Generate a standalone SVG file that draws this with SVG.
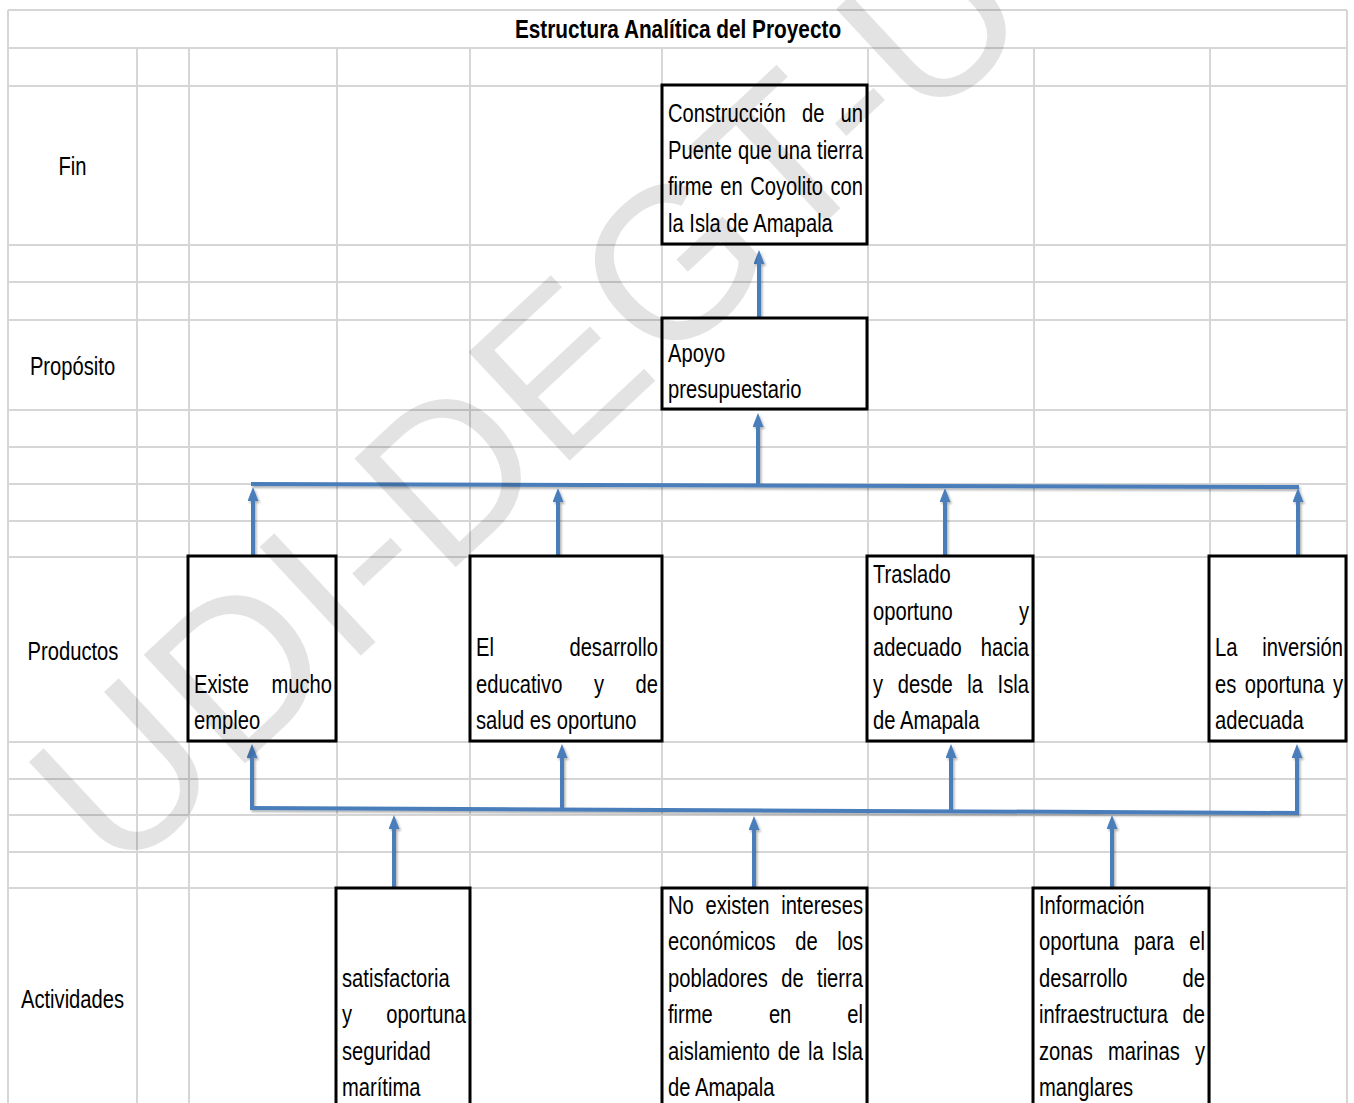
<svg xmlns="http://www.w3.org/2000/svg" width="1354" height="1103" viewBox="0 0 1354 1103">
  <style>
    .grid line { stroke: #d6d6d6; stroke-width: 2; }
    .box { fill: #ffffff; stroke: #000000; stroke-width: 3; }
    .t { font-family: "Liberation Sans", Arial, sans-serif; font-size: 26px; fill: #000000; }
    .title { font-family: "Liberation Sans", Arial, sans-serif; font-size: 26px; font-weight: bold; fill: #000000; text-anchor: middle; }
    .e { text-anchor: end; }
    .m { text-anchor: middle; }
    .conn path { fill: none; stroke: #4a7ebb; stroke-width: 4; }
    .conn path.arr { marker-end: url(#ah); }
    .wm { font-family: "Liberation Sans", Arial, sans-serif; font-size: 216px; fill: #000000; fill-opacity: 0.11; }
  </style>
  <defs>
    <!-- arrowhead: tip sits 8px beyond the end of the line -->
    <marker id="ah" markerUnits="userSpaceOnUse" markerWidth="14" markerHeight="11" refX="6" refY="5.5" orient="auto">
      <path d="M0,0 L14,5.5 L0,11 Z" fill="#4a7ebb"/>
    </marker>
    <filter id="sh" x="-5%" y="-20%" width="110%" height="140%">
      <feDropShadow dx="1.5" dy="2" stdDeviation="1.2" flood-color="#000000" flood-opacity="0.3"/>
    </filter>
  </defs>

  <rect width="1354" height="1103" fill="#ffffff"/>

  <!-- spreadsheet grid -->
  <g id="grid" class="grid">
    <line x1="8" y1="10" x2="1347" y2="10"/>
    <line x1="8" y1="48" x2="1347" y2="48"/>
    <line x1="8" y1="86" x2="1347" y2="86"/>
    <line x1="8" y1="245" x2="1347" y2="245"/>
    <line x1="8" y1="282" x2="1347" y2="282"/>
    <line x1="8" y1="320" x2="1347" y2="320"/>
    <line x1="8" y1="410" x2="1347" y2="410"/>
    <line x1="8" y1="447" x2="1347" y2="447"/>
    <line x1="8" y1="484" x2="1347" y2="484"/>
    <line x1="8" y1="521" x2="1347" y2="521"/>
    <line x1="8" y1="557" x2="1347" y2="557"/>
    <line x1="8" y1="742" x2="1347" y2="742"/>
    <line x1="8" y1="779" x2="1347" y2="779"/>
    <line x1="8" y1="815" x2="1347" y2="815"/>
    <line x1="8" y1="852" x2="1347" y2="852"/>
    <line x1="8" y1="888" x2="1347" y2="888"/>
    <line x1="8" y1="10" x2="8" y2="1103"/>
    <line x1="1347" y1="10" x2="1347" y2="1103"/>
    <line x1="137" y1="48" x2="137" y2="1103"/>
    <line x1="189" y1="48" x2="189" y2="1103"/>
    <line x1="337" y1="48" x2="337" y2="1103"/>
    <line x1="470" y1="48" x2="470" y2="1103"/>
    <line x1="662" y1="48" x2="662" y2="1103"/>
    <line x1="868" y1="48" x2="868" y2="1103"/>
    <line x1="1034" y1="48" x2="1034" y2="1103"/>
    <line x1="1210" y1="48" x2="1210" y2="1103"/>
  </g>

  <text class="title" transform="translate(678 38) scale(.8 1)">Estructura Analítica del Proyecto</text>

  <!-- row labels -->
  <g id="row-labels">
    <text class="t m" transform="translate(72.5 175) scale(.776 1)">Fin</text>
    <text class="t m" transform="translate(72.5 375) scale(.776 1)">Propósito</text>
    <text class="t m" transform="translate(73 660) scale(.776 1)">Productos</text>
    <text class="t m" transform="translate(72.5 1008) scale(.776 1)">Actividades</text>
  </g>

  <!-- connectors -->
  <g id="connectors" class="conn" filter="url(#sh)">
    <path class="arr" d="M759 318 V258"/>
    <path d="M251 484 L1299 487"/>
    <path class="arr" d="M758 486 V421"/>
    <path class="arr" d="M253 556 V495"/>
    <path class="arr" d="M558 556 V496"/>
    <path class="arr" d="M945 556 V496"/>
    <path class="arr" d="M1298 556 V496"/>
    <path d="M250 808 L1299 813"/>
    <path class="arr" d="M252 810 V752"/>
    <path class="arr" d="M562 809 V752"/>
    <path class="arr" d="M951 811 V752"/>
    <path class="arr" d="M1297 813 V752"/>
    <path class="arr" d="M394 888 V823"/>
    <path class="arr" d="M754 888 V824"/>
    <path class="arr" d="M1112 888 V823"/>
  </g>

  <g id="fin">
    <rect class="box" x="662" y="85" width="205" height="159"/>
    <text class="t" transform="translate(668 122) scale(.776 1)">Construcción</text>
    <text class="t" transform="translate(802 122) scale(.776 1)">de</text>
    <text class="t e" transform="translate(863 122) scale(.776 1)">un</text>
    <text class="t" transform="translate(668 159) scale(.776 1)">Puente</text>
    <text class="t" transform="translate(738 159) scale(.776 1)">que</text>
    <text class="t" transform="translate(777.5 159) scale(.776 1)">una</text>
    <text class="t e" transform="translate(863 159) scale(.776 1)">tierra</text>
    <text class="t" transform="translate(668 195) scale(.776 1)">firme</text>
    <text class="t" transform="translate(720.3 195) scale(.776 1)">en</text>
    <text class="t" transform="translate(750.2 195) scale(.776 1)">Coyolito</text>
    <text class="t e" transform="translate(863 195) scale(.776 1)">con</text>
    <text class="t" transform="translate(668 232) scale(.776 1)">la Isla de Amapala</text>
  </g>

  <g id="proposito">
    <rect class="box" x="662" y="318" width="205" height="91"/>
    <text class="t" transform="translate(668 362) scale(.776 1)">Apoyo</text>
    <text class="t" transform="translate(668 398) scale(.776 1)">presupuestario</text>
  </g>

  <g id="producto-empleo">
    <rect class="box" x="188" y="556" width="148" height="185"/>
    <text class="t" transform="translate(194 693) scale(.776 1)">Existe</text>
    <text class="t e" transform="translate(332 693) scale(.776 1)">mucho</text>
    <text class="t" transform="translate(194 729) scale(.776 1)">empleo</text>
  </g>

  <g id="producto-educacion-salud">
    <rect class="box" x="470" y="556" width="192" height="185"/>
    <text class="t" transform="translate(476 656) scale(.776 1)">El</text>
    <text class="t e" transform="translate(658 656) scale(.776 1)">desarrollo</text>
    <text class="t" transform="translate(476 693) scale(.776 1)">educativo</text>
    <text class="t" transform="translate(594 693) scale(.776 1)">y</text>
    <text class="t e" transform="translate(658 693) scale(.776 1)">de</text>
    <text class="t" transform="translate(476 729) scale(.776 1)">salud es oportuno</text>
  </g>

  <g id="producto-traslado">
    <rect class="box" x="867" y="556" width="166" height="185"/>
    <text class="t" transform="translate(873 583) scale(.776 1)">Traslado</text>
    <text class="t" transform="translate(873 620) scale(.776 1)">oportuno</text>
    <text class="t e" transform="translate(1029 620) scale(.776 1)">y</text>
    <text class="t" transform="translate(873 656) scale(.776 1)">adecuado</text>
    <text class="t e" transform="translate(1029 656) scale(.776 1)">hacia</text>
    <text class="t" transform="translate(873 693) scale(.776 1)">y</text>
    <text class="t" transform="translate(897.7 693) scale(.776 1)">desde</text>
    <text class="t" transform="translate(967.2 693) scale(.776 1)">la</text>
    <text class="t e" transform="translate(1029 693) scale(.776 1)">Isla</text>
    <text class="t" transform="translate(873 729) scale(.776 1)">de Amapala</text>
  </g>

  <g id="producto-inversion">
    <rect class="box" x="1209" y="556" width="137" height="185"/>
    <text class="t" transform="translate(1215 656) scale(.776 1)">La</text>
    <text class="t e" transform="translate(1343 656) scale(.776 1)">inversión</text>
    <text class="t" transform="translate(1215 693) scale(.776 1)">es</text>
    <text class="t" transform="translate(1244.8 693) scale(.776 1)">oportuna</text>
    <text class="t e" transform="translate(1343 693) scale(.776 1)">y</text>
    <text class="t" transform="translate(1215 729) scale(.776 1)">adecuada</text>
  </g>

  <g id="actividad-seguridad">
    <rect class="box" x="336" y="888" width="134" height="240"/>
    <text class="t" transform="translate(342 987) scale(.776 1)">satisfactoria</text>
    <text class="t" transform="translate(342 1023) scale(.776 1)">y</text>
    <text class="t e" transform="translate(466 1023) scale(.776 1)">oportuna</text>
    <text class="t" transform="translate(342 1060) scale(.776 1)">seguridad</text>
    <text class="t" transform="translate(342 1096) scale(.776 1)">marítima</text>
  </g>

  <g id="actividad-intereses">
    <rect class="box" x="662" y="888" width="205" height="240"/>
    <text class="t" transform="translate(668 914) scale(.776 1)">No</text>
    <text class="t" transform="translate(705.5 914) scale(.776 1)">existen</text>
    <text class="t e" transform="translate(863 914) scale(.776 1)">intereses</text>
    <text class="t" transform="translate(668 950) scale(.776 1)">económicos</text>
    <text class="t" transform="translate(795.2 950) scale(.776 1)">de</text>
    <text class="t e" transform="translate(863 950) scale(.776 1)">los</text>
    <text class="t" transform="translate(668 987) scale(.776 1)">pobladores</text>
    <text class="t" transform="translate(781.2 987) scale(.776 1)">de</text>
    <text class="t e" transform="translate(863 987) scale(.776 1)">tierra</text>
    <text class="t" transform="translate(668 1023) scale(.776 1)">firme</text>
    <text class="t" transform="translate(768.9 1023) scale(.776 1)">en</text>
    <text class="t e" transform="translate(863 1023) scale(.776 1)">el</text>
    <text class="t" transform="translate(668 1060) scale(.776 1)">aislamiento</text>
    <text class="t" transform="translate(777.8 1060) scale(.776 1)">de</text>
    <text class="t" transform="translate(808.1 1060) scale(.776 1)">la</text>
    <text class="t e" transform="translate(863 1060) scale(.776 1)">Isla</text>
    <text class="t" transform="translate(668 1096) scale(.776 1)">de Amapala</text>
  </g>

  <g id="actividad-informacion">
    <rect class="box" x="1033" y="888" width="176" height="240"/>
    <text class="t" transform="translate(1039 914) scale(.776 1)">Información</text>
    <text class="t" transform="translate(1039 950) scale(.776 1)">oportuna</text>
    <text class="t" transform="translate(1133.8 950) scale(.776 1)">para</text>
    <text class="t e" transform="translate(1205 950) scale(.776 1)">el</text>
    <text class="t" transform="translate(1039 987) scale(.776 1)">desarrollo</text>
    <text class="t e" transform="translate(1205 987) scale(.776 1)">de</text>
    <text class="t" transform="translate(1039 1023) scale(.776 1)">infraestructura</text>
    <text class="t e" transform="translate(1205 1023) scale(.776 1)">de</text>
    <text class="t" transform="translate(1039 1060) scale(.776 1)">zonas</text>
    <text class="t" transform="translate(1108 1060) scale(.776 1)">marinas</text>
    <text class="t e" transform="translate(1205 1060) scale(.776 1)">y</text>
    <text class="t" transform="translate(1039 1096) scale(.776 1)">manglares</text>
  </g>

  <!-- translucent diagonal watermark over the sheet -->
  <text class="wm" transform="translate(118 882) rotate(-43)">UDI-DEGT-U</text>
</svg>
